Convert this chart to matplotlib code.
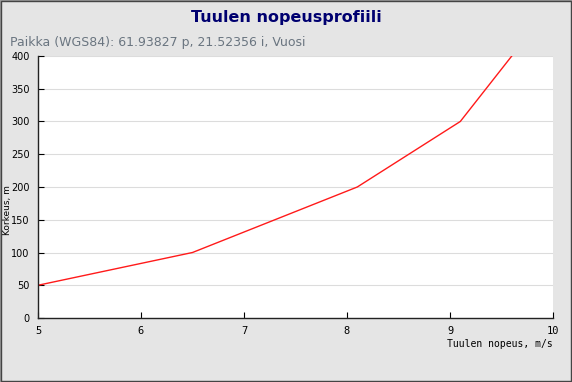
import matplotlib.pyplot as plt
from matplotlib.patches import Rectangle

# tuulen nopeus (m/s) ja korkeus (m)
nopeus = [5.0, 6.5, 8.1, 9.1, 9.6]
korkeus = [50, 100, 200, 300, 400]
x_ticks = [5, 6, 7, 8, 9, 10]
y_ticks = [0, 50, 100, 150, 200, 250, 300, 350, 400]

fig = plt.figure(figsize=(5.72, 3.82), dpi=100)
fig.patch.set_facecolor('#e5e5e5')

# reunat
fig.patches.append(Rectangle((0, 0), 1, 1, transform=fig.transFigure,
                             fill=False, edgecolor='#9a9a9a', linewidth=1.5))
fig.patches.append(Rectangle((0.002, 0.003), 0.996, 0.994, transform=fig.transFigure,
                             fill=False, edgecolor='#444444', linewidth=1.0))

ax = fig.add_axes([0.0664, 0.1675, 0.9004, 0.686])
ax.set_facecolor('white')
ax.plot(nopeus, korkeus, color='#ff1a1a', linewidth=1.0)

ax.set_xlim(5, 10)
ax.set_ylim(0, 400)
ax.set_xticks(x_ticks)
ax.set_yticks(y_ticks)
ax.grid(axis='y', color='#dcdcdc', linewidth=0.8)
ax.set_axisbelow(True)

for s in ['top', 'right']:
    ax.spines[s].set_visible(False)
for s in ['left', 'bottom']:
    ax.spines[s].set_linewidth(1.0)
    ax.spines[s].set_color('#222222')

ax.tick_params(axis='x', direction='in', length=4, pad=6, labelsize=7.5)
ax.tick_params(axis='y', direction='in', length=4, pad=6, labelsize=7)
for lab in ax.get_xticklabels():
    lab.set_family('DejaVu Sans Mono')

ax.text(1.0, -0.08, 'Tuulen nopeus, m/s', transform=ax.transAxes, ha='right', va='top',
        fontsize=7, family='DejaVu Sans Mono')
fig.text(0.005, 0.45, 'Korkeus, m', rotation=90, ha='left', va='center', fontsize=6.5)

fig.text(0.5, 0.955, 'Tuulen nopeusprofiili', ha='center', va='center',
         fontsize=11.5, fontweight='bold', color='#000070')
fig.text(0.017, 0.888, 'Paikka (WGS84): 61.93827 p, 21.52356 i, Vuosi', ha='left', va='center',
         fontsize=9, color='#6a7580')

fig.savefig('out.png', dpi=100, facecolor=fig.get_facecolor())
